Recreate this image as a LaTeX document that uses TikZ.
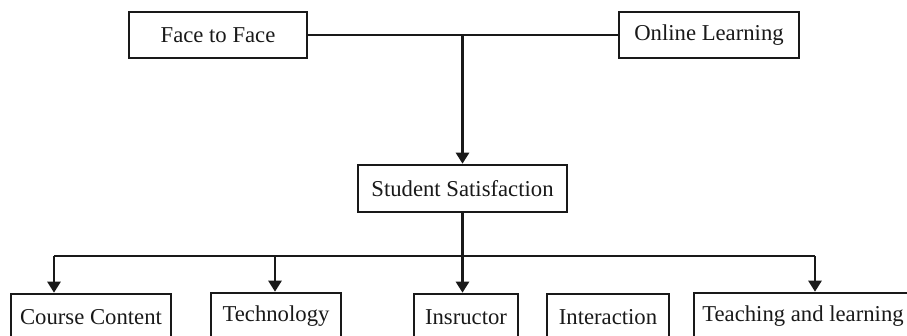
\documentclass[tikz,border=0pt]{standalone}
\usepackage{fontspec}
\setmainfont{Liberation Serif}
\usetikzlibrary{arrows.meta}
\begin{document}
\begin{tikzpicture}[x=1pt,y=1pt,
  box/.style={draw=black!90, line width=2.6pt, inner sep=0pt, minimum height=46pt,
    font=\fontsize{22.7}{27}\selectfont, text=black!90},
  link/.style={draw=black!90, line width=2.6pt},
  arr/.style={link, -{Triangle[width=13pt,length=11pt]}}]
\useasboundingbox (0,0) rectangle (907,-335);
\clip (0,0) rectangle (907,-335);
\node[box, minimum width=178pt] (ff) at (218,-35) {Face to Face};
\node[box, minimum width=180pt] (ol) at (709,-35) {Online Learning};
\node[box, minimum width=209pt, minimum height=47pt] (ss) at (462.5,-188.5) {Student Satisfaction};
\node[box, minimum width=160pt] (cc) at (91,-317) {Course Content};
\node[box, minimum width=130pt] (te) at (276,-316) {Technology};
\node[box, minimum width=104pt] (in) at (466,-317) {Insructor};
\node[box, minimum width=122pt] (ia) at (608,-317) {Interaction};
\node[box, minimum width=218pt] (tl) at (803,-316) {Teaching and learning};
\coordinate (j1) at (462.5,-35);
\coordinate (j2) at (462.5,-256);
\coordinate (b1) at (54,-256);
\coordinate (b2) at (275,-256);
\coordinate (b5) at (815,-256);
\draw[link] (ff.east) -- (ol.west);
\draw[arr] (j1) -- (ss.north);
\draw[link] (ss.south) -- (j2);
\draw[link] (b1) -- (b5);
\draw[arr] (b1) -- (b1 |- cc.north);
\draw[arr] (b2) -- (b2 |- te.north);
\draw[arr] (j2) -- (j2 |- in.north);
\draw[arr] (b5) -- (b5 |- tl.north);
\end{tikzpicture}
\end{document}
